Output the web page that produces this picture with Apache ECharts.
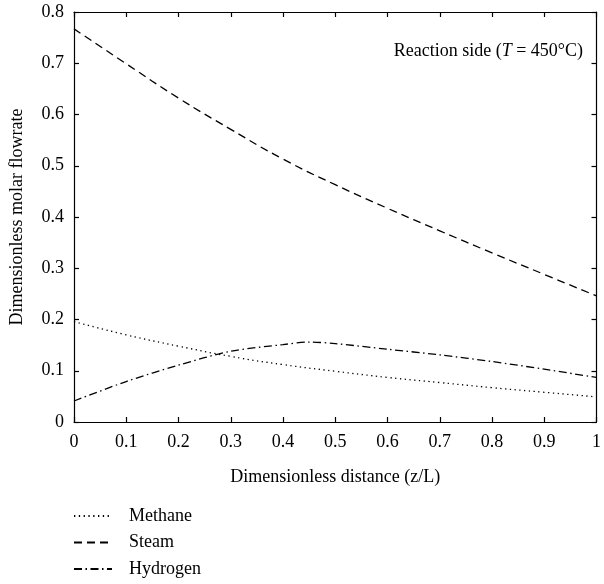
<!DOCTYPE html>
<html>
<head>
<meta charset="utf-8">
<script src="https://cdn.jsdelivr.net/npm/echarts@6/dist/echarts.min.js"></script>
<style>html,body{margin:0;padding:0;background:#fff}#c{width:604px;height:584px}</style>
</head>
<body>
<div id="c"></div>
<script>
const xTicks = [0, 0.1, 0.2, 0.3, 0.4, 0.5, 0.6, 0.7, 0.8, 0.9, 1];
const methaneX = [0, 0.1, 0.2, 0.3, 0.4, 0.5, 0.6, 0.7, 0.8, 0.9, 1];
const methaneY = [0.196, 0.170, 0.148, 0.128, 0.112, 0.099, 0.087, 0.077, 0.067, 0.058, 0.049];
const steamX = [0, 0.1, 0.2, 0.3, 0.4, 0.5, 0.6, 0.7, 0.8, 0.9, 1];
const steamY = [0.767, 0.699, 0.632, 0.571, 0.513, 0.463, 0.417, 0.373, 0.330, 0.288, 0.246];
const hydrogenX = [0, 0.1, 0.2, 0.3, 0.4, 0.45, 0.5, 0.6, 0.7, 0.8, 0.9, 1];
const hydrogenY = [0.041, 0.079, 0.111, 0.138, 0.151, 0.156, 0.153, 0.142, 0.131, 0.118, 0.103, 0.087];

const font = 'Liberation Serif';
const fs = 18;
function pairs(xs, ys) { return xs.map((x, i) => [x, ys[i]]); }

const chart = echarts.init(document.getElementById('c'), null, {renderer: 'canvas'});
const axisLine = () => ({show: true, onZero: false, lineStyle: {color: '#000', width: 1.2}});
const tick = () => ({show: true, inside: true, length: 5, lineStyle: {color: '#000', width: 1.2}});
chart.setOption({
  animation: false,
  backgroundColor: '#fff',
  grid: {left: 74, right: 2, top: 12, bottom: 162, containLabel: false},
  title: {
    text: '{n|Reaction side (}{i|T}{n| = 450°C)}',
    right: 16, top: 37,
    textStyle: {
      fontWeight: 'normal',
      rich: {
        n: {fontFamily: font, fontSize: fs, fontWeight: 'normal', color: '#000'},
        i: {fontFamily: font, fontSize: fs, fontWeight: 'normal', fontStyle: 'italic', color: '#000'}
      }
    }
  },
  legend: {
    orient: 'vertical', left: 68, top: 501, itemWidth: 38, itemHeight: 12, itemGap: 6.5,
    padding: 5,
    itemStyle: {opacity: 0},
    textStyle: {fontFamily: font, fontSize: fs, color: '#000', lineHeight: 20, padding: [0, 0, 0, 12]},
    data: ['Methane', 'Steam', 'Hydrogen']
  },
  xAxis: [{
    type: 'value', min: 0, max: 1, interval: 0.1, position: 'bottom',
    name: 'Dimensionless distance (z/L)', nameLocation: 'middle', nameGap: 46,
    nameTextStyle: {fontFamily: font, fontSize: fs, color: '#000'},
    axisLine: axisLine(), axisTick: tick(), splitLine: {show: false},
    axisLabel: {fontFamily: font, fontSize: fs, color: '#000', margin: 11,
      formatter: v => String(+v.toFixed(1))}
  }, {
    type: 'value', min: 0, max: 1, interval: 0.1, position: 'top',
    axisLine: axisLine(), axisTick: tick(), axisLabel: {show: false}, splitLine: {show: false}
  }],
  yAxis: [{
    type: 'value', min: 0, max: 0.8, interval: 0.1, position: 'left',
    name: 'Dimensionless molar flowrate', nameLocation: 'middle', nameGap: 48,
    nameTextStyle: {fontFamily: font, fontSize: fs, color: '#000'},
    axisLine: axisLine(), axisTick: tick(), splitLine: {show: false},
    axisLabel: {fontFamily: font, fontSize: fs, color: '#000', margin: 10,
      formatter: v => String(+v.toFixed(1))}
  }, {
    type: 'value', min: 0, max: 0.8, interval: 0.1, position: 'right',
    axisLine: axisLine(), axisTick: tick(), axisLabel: {show: false}, splitLine: {show: false}
  }],
  series: [{
    name: 'Methane', type: 'line', showSymbol: false, symbol: 'none', smooth: true,
    data: pairs(methaneX, methaneY),
    lineStyle: {color: '#000', width: 1.3, type: [1.3, 3.5]}, itemStyle: {color: '#000'}
  }, {
    name: 'Steam', type: 'line', showSymbol: false, symbol: 'none', smooth: true,
    data: pairs(steamX, steamY),
    lineStyle: {color: '#000', width: 1.3, type: [8, 5]}, itemStyle: {color: '#000'}
  }, {
    name: 'Hydrogen', type: 'line', showSymbol: false, symbol: 'none', smooth: 0.3,
    data: pairs(hydrogenX, hydrogenY),
    lineStyle: {color: '#000', width: 1.3, type: [8, 3.5, 1.5, 3.5]}, itemStyle: {color: '#000'}
  }]
});
</script>
</body>
</html>
